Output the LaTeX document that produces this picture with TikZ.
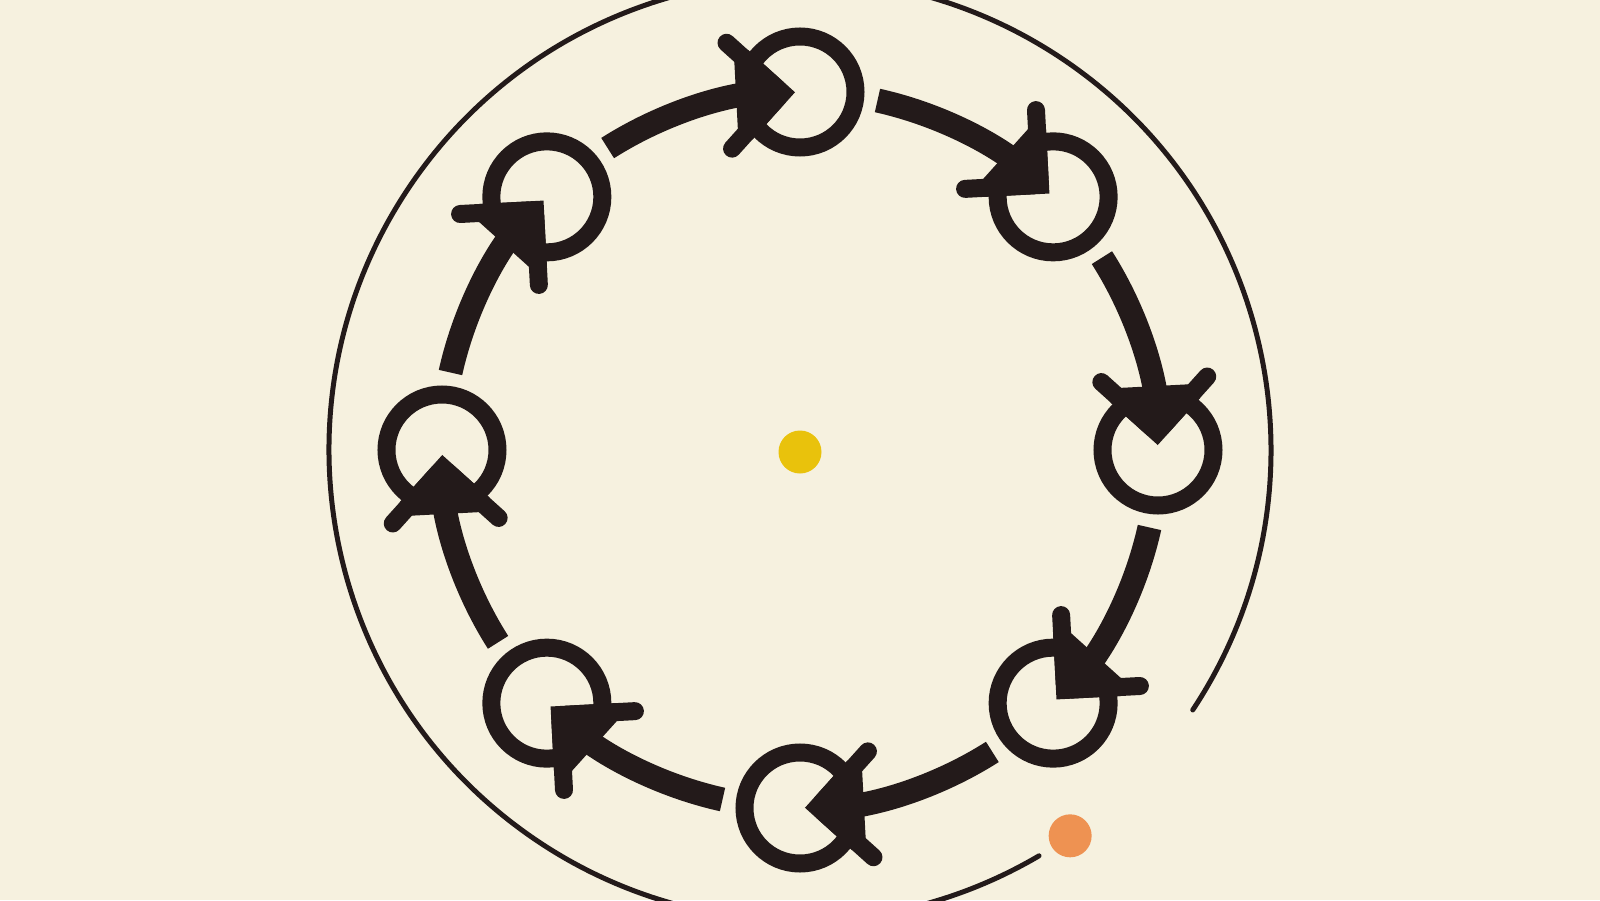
\documentclass[tikz,border=0pt]{standalone}
\usepackage{tikz}
\usetikzlibrary{calc}
\definecolor{paper}{RGB}{246,241,223}
\definecolor{ink}{RGB}{35,26,26}
\definecolor{gold}{RGB}{233,194,12}
\definecolor{ember}{RGB}{238,146,82}

\begin{document}
\begin{tikzpicture}
  [
    x=1pt, y=1pt,
    ring/.style = {draw=ink, circle, line width=18pt, minimum size=111pt, inner sep=0pt},
    link/.style = {draw=ink, line width=24pt, shorten >=30pt},
    barb/.style = {draw=ink, line width=18pt, line cap=round},
    dot/.style  = {circle, inner sep=0pt, minimum size=43pt},
  ]

  % the paper
  \useasboundingbox (-800,-450) rectangle (800,450);
  \clip (-800,-450) rectangle (800,450);
  \fill[paper] (-800,-450) rectangle (800,450);

  \def\rad{358}
  \def\orbit{471}
  \def\gap{12.5}

  % outer orbit
  \draw[ink, line width=5pt, line cap=round] (-33.5:\orbit) arc[start angle=-33.5, end angle=300.5, radius=\orbit];

  % stations
  \foreach \i in {0,...,7}{
    \pgfmathsetmacro\ang{90-45*\i}
    \node[ring] (n\i) at (\ang:\rad) {};
    \coordinate (s\i) at (\ang-\gap:\rad);
  }

  % links and heads
  \foreach \i in {0,...,7}{
    \pgfmathtruncatemacro\j{mod(\i+1,8)}
    \pgfmathsetmacro\ang{90-45*\j}
    \draw[link] (s\i) to[bend left=16.25, looseness=0.87] (n\j.center);
    \begin{scope}[shift={(n\j.center)}, rotate=\ang+93]
      \fill[ink] (5,0) -- (50,45) -- (64,40) -- (64,-40) -- (50,-45) -- cycle;
      \draw[barb] (22,4.2) -- (70.8,53);
      \draw[barb] (22,-4.2) -- (70.8,-53);
    \end{scope}
  }

  \node[dot, fill=gold] (hub) at (0,-2) {};
  \node[dot, fill=ember] (probe) at (-55:\orbit) {};
\end{tikzpicture}
\end{document}
